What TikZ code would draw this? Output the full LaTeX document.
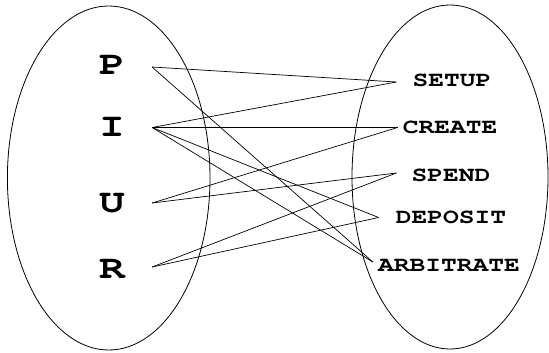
\documentclass[tikz,border=0pt]{standalone}
\usepackage[T1]{fontenc}
\newcommand\courbold{\fontencoding{T1}\fontfamily{pcr}\fontseries{b}\selectfont}
\begin{document}
\begin{tikzpicture}[x=1pt,y=-1pt,
  setel/.style={draw=black,line width=0.8pt},
  lft/.style={font=\courbold\fontsize{33}{33}\selectfont,inner sep=0pt,xscale=1.3},
  rgt/.style={font=\courbold\fontsize{21}{21}\selectfont,inner sep=0pt,xscale=1.25},
  link/.style={draw=black,line width=0.7pt}]
\useasboundingbox (0,0) rectangle (549,353);
\draw[setel] (108.7,178) ellipse [x radius=101.3, y radius=172];
\draw[setel] (450,177) ellipse [x radius=98, y radius=172];
\node[lft] (P) at (112,65) {P};
\node[lft] (I) at (112,127.5) {I};
\node[lft] (U) at (112,204) {U};
\node[lft] (R) at (112,269) {R};
\node[rgt] (SETUP) at (452,80) {SETUP};
\node[rgt] (CREATE) at (450,127.5) {CREATE};
\node[rgt] (SPEND) at (451,175) {SPEND};
\node[rgt] (DEPOSIT) at (451,217.5) {DEPOSIT};
\node[rgt] (ARBITRATE) at (449,266) {ARBITRATE};
\coordinate (Pout) at ([xshift=27pt,yshift=-2pt]P.east);
\coordinate (Iout) at ([xshift=27pt]I.east);
\coordinate (Uout) at ([xshift=27pt,yshift=1pt]U.east);
\coordinate (Rout) at ([xshift=27pt,yshift=2pt]R.east);
\coordinate (SETUPin) at ([xshift=-16pt,yshift=-2pt]SETUP.west);
\coordinate (CREATEin) at ([xshift=-5pt]CREATE.west);
\coordinate (SPENDin) at ([xshift=-15pt,yshift=2pt]SPEND.west);
\coordinate (DEPOSITin) at ([xshift=-17pt]DEPOSIT.west);
\coordinate (ARBITRATEin) at ([xshift=-5pt,yshift=4pt]ARBITRATE.west);
\draw[link] (Pout) -- (SETUPin);
\draw[link] (Pout) -- (ARBITRATEin);
\draw[link] (Iout) -- (SETUPin);
\draw[link] (Iout) -- (CREATEin);
\draw[link] (Iout) -- (DEPOSITin);
\draw[link] (Iout) -- (ARBITRATEin);
\draw[link] (Uout) -- (CREATEin);
\draw[link] (Uout) -- (SPENDin);
\draw[link] (Rout) -- (SPENDin);
\draw[link] (Rout) -- (DEPOSITin);
\end{tikzpicture}
\end{document}
